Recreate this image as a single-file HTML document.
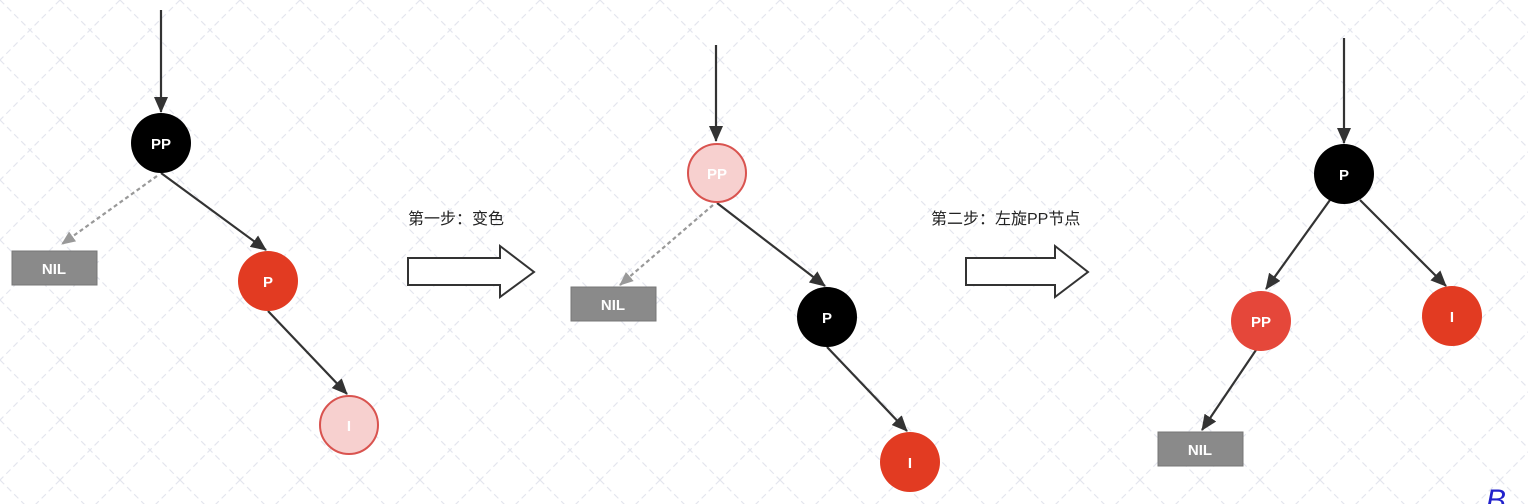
<!DOCTYPE html>
<html><head><meta charset="utf-8"><style>
html,body{margin:0;padding:0;background:#fff;}
svg{display:block;font-family:"Liberation Sans","Noto Sans CJK SC",sans-serif;}
</style></head><body>
<svg width="1528" height="504" viewBox="0 0 1528 504" xmlns="http://www.w3.org/2000/svg">
<defs>
<pattern id="g" width="60" height="60" patternUnits="userSpaceOnUse">
<path d="M0 0L60 60M60 0L0 60" stroke="#e4e6ee" stroke-width="1.2" stroke-dasharray="6 4" fill="none"/>
</pattern>
<marker id="a" markerWidth="16" markerHeight="14" refX="15" refY="7" orient="auto" markerUnits="userSpaceOnUse" viewBox="0 0 16 14">
<path d="M0 0L16 7L0 14z" fill="#333"/></marker>
<marker id="ad" markerWidth="14" markerHeight="12" refX="13" refY="6" orient="auto" markerUnits="userSpaceOnUse" viewBox="0 0 14 12">
<path d="M0 0L14 6L0 12z" fill="#999"/></marker>
</defs>
<rect width="1528" height="504" fill="url(#g)"/>
<g stroke="#333" stroke-width="2.2">
<line x1="161" y1="10" x2="161" y2="112" marker-end="url(#a)"/>
<line x1="161" y1="173" x2="266" y2="250" marker-end="url(#a)"/>
<line x1="268" y1="311" x2="347" y2="394" marker-end="url(#a)"/>
<line x1="716" y1="45" x2="716" y2="141" marker-end="url(#a)"/>
<line x1="717" y1="203" x2="825" y2="286" marker-end="url(#a)"/>
<line x1="827" y1="347" x2="907" y2="431" marker-end="url(#a)"/>
<line x1="1344" y1="38" x2="1344" y2="143" marker-end="url(#a)"/>
<line x1="1330" y1="200" x2="1266" y2="289" marker-end="url(#a)"/>
<line x1="1360" y1="200" x2="1446" y2="286" marker-end="url(#a)"/>
<line x1="1256" y1="350" x2="1202" y2="430" marker-end="url(#a)"/>
</g>
<g stroke="#999" stroke-width="2.2" stroke-dasharray="4 3">
<line x1="157" y1="176" x2="62" y2="244" marker-end="url(#ad)"/>
<line x1="713" y1="205" x2="620" y2="285" marker-end="url(#ad)"/>
</g>
<g font-weight="bold" font-size="15" text-anchor="middle">
<circle cx="161" cy="143" r="30" fill="#000"/><text x="161" y="149" fill="#fff">PP</text>
<circle cx="268" cy="281" r="30" fill="#e23b22"/><text x="268" y="287" fill="#fff">P</text>
<circle cx="349" cy="425" r="29" fill="#f7d0cf" stroke="#d9534f" stroke-width="2"/><text x="349" y="431" fill="#fff">I</text>
<circle cx="717" cy="173" r="29" fill="#f7d0cf" stroke="#d9534f" stroke-width="2"/><text x="717" y="179" fill="#fff">PP</text>
<circle cx="827" cy="317" r="30" fill="#000"/><text x="827" y="323" fill="#fff">P</text>
<circle cx="910" cy="462" r="30" fill="#e23b22"/><text x="910" y="468" fill="#fff">I</text>
<circle cx="1344" cy="174" r="30" fill="#000"/><text x="1344" y="180" fill="#fff">P</text>
<circle cx="1261" cy="321" r="30" fill="#e5473a"/><text x="1261" y="327" fill="#fff">PP</text>
<circle cx="1452" cy="316" r="30" fill="#e23b22"/><text x="1452" y="322" fill="#fff">I</text>
<rect x="12" y="251" width="85" height="34" fill="#8a8a8a" stroke="#777"/><text x="54" y="274" fill="#fff">NIL</text>
<rect x="571" y="287" width="85" height="34" fill="#8a8a8a" stroke="#777"/><text x="613" y="310" fill="#fff">NIL</text>
<rect x="1158" y="432" width="85" height="34" fill="#8a8a8a" stroke="#777"/><text x="1200" y="455" fill="#fff">NIL</text>
</g>
<g font-size="16" fill="#222">
<text x="408" y="224">第一步：变色</text>
<text x="931" y="224">第二步：左旋PP节点</text>
</g>
<g fill="#fff" stroke="#333" stroke-width="2">
<path d="M408 258H500V246L534 272L500 297V285H408Z"/>
<path d="M966 258H1055V246L1088 272L1055 297V285H966Z"/>
</g>
<text x="1486" y="510" font-size="30" fill="#2222cc" font-style="italic">B</text>
</svg>
</body></html>
